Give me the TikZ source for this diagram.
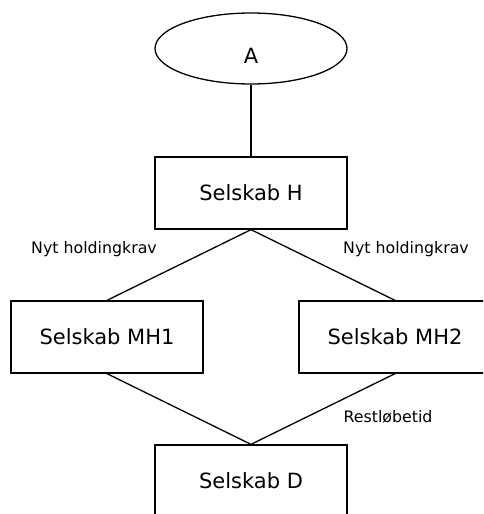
\documentclass[tikz,border=0pt]{standalone}
\usepackage{fontspec}
\setmainfont{DejaVu Sans}
\usetikzlibrary{shapes.geometric}

\begin{document}
\begin{tikzpicture}[x=1pt, y=-1pt, line width=1.3pt,
    firm/.style={draw, rectangle, minimum width=192pt, minimum height=72pt, inner sep=0pt, font=\fontsize{21}{25}\selectfont},
    owner/.style={draw, ellipse, minimum width=192pt, minimum height=71pt, inner sep=0pt, font=\fontsize{21}{25}\selectfont},
    note/.style={font=\fontsize{15.8}{19}\selectfont}]
  \clip (0,0) rectangle (483,514);
  \node [owner, text height=29pt, text depth=0pt] (A) at (251, 48.5) {A};
  \node [firm] (H) at (251, 193) {Selskab H};
  \node [firm] (MH1) at (107, 337) {Selskab MH1};
  \node [firm] (MH2) at (395, 337) {Selskab MH2};
  \node [firm] (D) at (251, 481) {Selskab D};
  \node [note] (krav1) at (94, 249) {Nyt holdingkrav};
  \node [note] (krav2) at (406, 249) {Nyt holdingkrav};
  \node [note] (rest) at (388, 417) {Restløbetid};
  \draw (A) -- (H);
  \draw (H.south) -- (MH1.north);
  \draw (H.south) -- (MH2.north);
  \draw (MH1.south) -- (D.north);
  \draw (MH2.south) -- (D.north);
 \end{tikzpicture}
\end{document}
